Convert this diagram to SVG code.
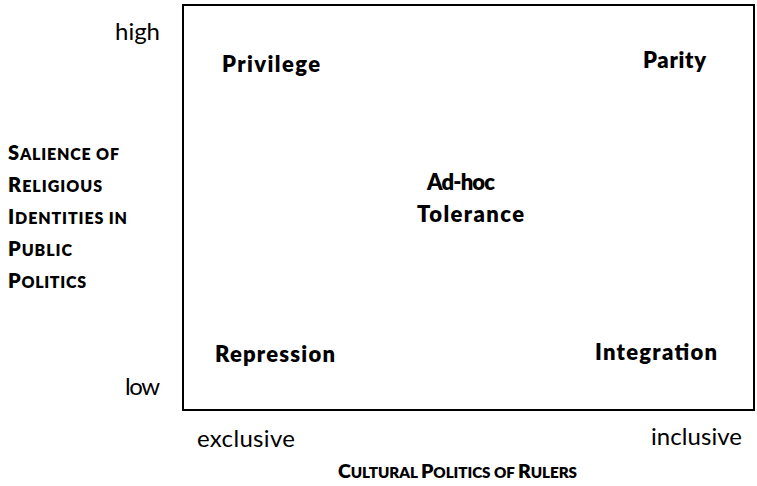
<svg xmlns="http://www.w3.org/2000/svg" width="757" height="486" viewBox="0 0 757 486">
<style>
text{font-family:Lato,"Open Sans","Liberation Sans",sans-serif;fill:#000}
.q{font-weight:800;font-size:22px}
.r{font-weight:normal;font-size:24px}
.sc{font-weight:800;font-size:20px}
.s{font-size:16px}
.xl{font-size:19.5px}
.xl .s{font-size:15.2px}
.frame{fill:none;stroke:#000;stroke-width:2}
</style>
<rect id="frame" class="frame" x="183" y="5" width="571" height="405"/>
<g id="privilege"><text class="q" x="222" y="72" textLength="98">Privilege</text></g>
<g id="parity"><text class="q" x="643" y="68" textLength="63">Parity</text></g>
<g id="adhoc-tolerance"><text class="q" x="427" y="190" textLength="68">Ad-hoc</text><text class="q" x="417" y="222" textLength="107">Tolerance</text></g>
<g id="repression"><text class="q" x="215" y="362" textLength="120">Repression</text></g>
<g id="integration"><text class="q" x="595" y="360" textLength="122">Integration</text></g>
<g id="y-axis">
<text class="r" x="115" y="40" textLength="45">high</text>
<text class="r" x="125" y="395" textLength="35">low</text>
<text class="sc" x="8" y="160" textLength="111">S<tspan class="s">ALIENCE OF</tspan></text>
<text class="sc" x="8" y="192" textLength="94">R<tspan class="s">ELIGIOUS</tspan></text>
<text class="sc" x="8" y="224" textLength="119">I<tspan class="s">DENTITIES IN</tspan></text>
<text class="sc" x="8" y="256" textLength="64">P<tspan class="s">UBLIC</tspan></text>
<text class="sc" x="8" y="288" textLength="78">P<tspan class="s">OLITICS</tspan></text>
</g>
<g id="x-axis">
<text class="r" x="197" y="447" textLength="98">exclusive</text>
<text class="r" x="651" y="445" textLength="91">inclusive</text>
<text class="sc xl" x="338" y="478" textLength="239">C<tspan class="s">ULTURAL </tspan>P<tspan class="s">OLITICS OF </tspan>R<tspan class="s">ULERS</tspan></text>
</g>
</svg>
